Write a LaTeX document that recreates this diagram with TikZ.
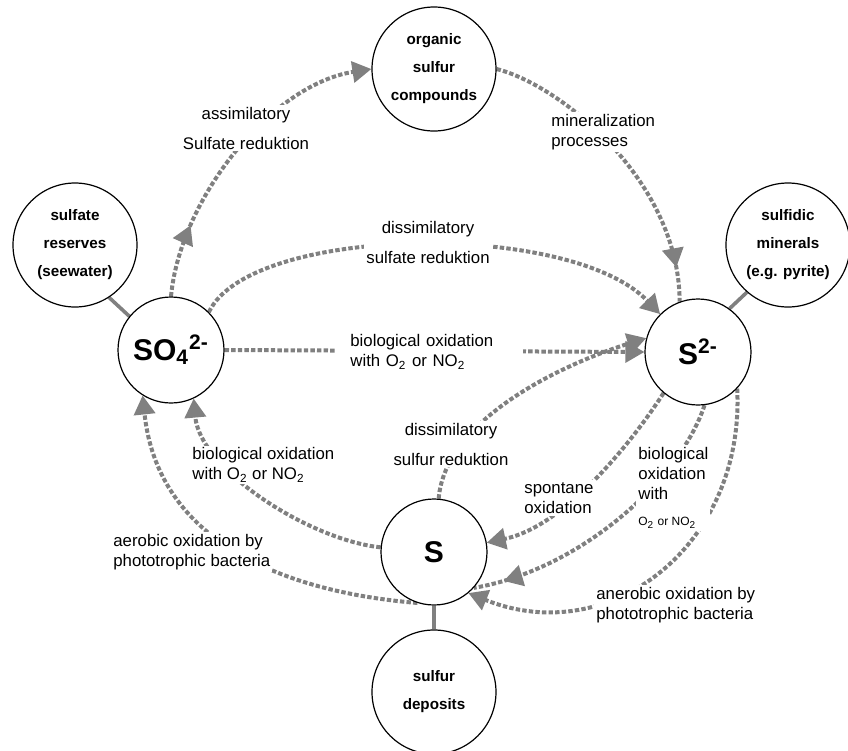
\documentclass[tikz,border=0pt]{standalone}
\usepackage{fontspec}
\setmainfont{Liberation Sans}
\usetikzlibrary{arrows.meta,decorations.markings,backgrounds}
\definecolor{flowgray}{RGB}{128,128,128}

\begin{document}
\begin{tikzpicture}[x=0.5pt, y=-0.5pt,
  pool/.style = {circle, draw, fill=white, line width=0.6pt, minimum size=62pt,
    inner sep=0pt, align=center, font=\bfseries\fontsize{7.6}{14}\selectfont},
  ion/.style = {circle, draw, fill=white, line width=0.6pt, minimum size=53pt,
    inner sep=0pt, font=\bfseries\fontsize{15}{15}\selectfont},
  lbl/.style = {fill=white, inner sep=1pt, font=\fontsize{8.4}{10}\selectfont},
  lblwide/.style = {lbl, align=center, font=\fontsize{8.4}{15}\selectfont},
  flow/.style = {draw=flowgray, line width=2pt, dash pattern=on 2.2pt off 1.1pt},
  tipend/.style = {-{Triangle[length=9.5pt,width=10.5pt]}},
  tipmid/.style = {postaction={decorate}, decoration={markings,
    mark=at position #1 with {\arrow[flowgray]{Triangle[length=9.5pt,width=10.5pt]}}}},
  link/.style = {draw=flowgray, line width=1.8pt}
  ]
  \useasboundingbox (0,0) rectangle (848,751);

  % pools and ions
  \node[pool] (org) at (434,69) {organic\\sulfur\\compounds};
  \node[pool] (res) at (75,245) {sulfate\\reserves\\(seewater)};
  \node[pool] (min) at (788,245) {sulfidic\\minerals\\(e.g. pyrite)};
  \node[pool] (dep) at (434,692) {sulfur\\deposits};
  \node[ion] (so4) at (171,350) {SO\textsubscript{4}\textsuperscript{2-}};
  \node[ion] (s2) at (698,352) {S\textsuperscript{2-}};
  \node[ion] (s) at (434,552) {S};

  % process labels
  \node[lblwide] (lassim) at (246,128) {assimilatory\\Sulfate reduktion};
  \node[lbl, align=left, anchor=west] (lmin) at (549,132) {mineralization\\processes};
  \node[lblwide] (ldissulf) at (428,242) {dissimilatory\\sulfate reduktion};
  \node[lbl, align=left, anchor=west, inner xsep=7.5pt, text width=79pt] (lbiomid) at (335,352)
    {biological oxidation\\with O\textsubscript{2} or NO\textsubscript{2}};
  \node[lblwide] (ldisS) at (451,444) {dissimilatory\\sulfur reduktion};
  \node[lbl, align=left, anchor=west] (lbioleft) at (190,465)
    {biological oxidation\\with O\textsubscript{2} or NO\textsubscript{2}};
  \node[lbl, align=left, anchor=west] (lspont) at (522,498) {spontane\\oxidation};
  \node[lbl, align=left, anchor=west] (lbioright) at (636,488)
    {biological\\oxidation\\with\\[3pt]{\fontsize{6}{6}\selectfont O\textsubscript{2} or NO\textsubscript{2}}};
  \node[lbl, align=left, anchor=west] (laer) at (111,552) {aerobic oxidation by\\phototrophic bacteria};
  \node[lbl, align=left, anchor=west] (laner) at (594,605) {anerobic oxidation by\\phototrophic bacteria};

  \begin{scope}[on background layer]
    % reservoirs
    \draw[link] (res.-57) -- (so4.141);
    \draw[link] (s2.54) -- (min.-131);
    \draw[link] (s.south) -- (dep.north);
    % cycle
    \draw[flow, tipmid=0.23, tipend] (so4.north) .. controls (180,200) and (270,85) .. (org.west);
    \draw[flow, tipmid=0.89] (org.east) .. controls (560,85) and (679,180) .. (s2.110);
    \draw[flow, tipend] (so4.45) .. controls (250,225) and (570,220) .. (s2.135);
    \draw[flow, tipend] (so4.east) -- (s2.west);
    \draw[flow, tipend] (s.85) .. controls (445,420) and (560,365) .. (s2.165);
    \draw[flow, tipend] (s.175) .. controls (310,540) and (200,470) .. (so4.-65);
    \draw[flow, tipend] (s.-108) .. controls (320,595) and (160,560) .. (so4.-122);
    \draw[flow, tipend] (s2.-130) .. controls (640,430) and (570,525) .. (s.10);
    \draw[flow, tipmid=0.9] (s2.-83) .. controls (680,480) and (580,570) .. (s.-42);
    \draw[flow, tipend] (s2.-43) .. controls (745,545) and (610,650) .. (s.-50);
  \end{scope}
\end{tikzpicture}
\end{document}
